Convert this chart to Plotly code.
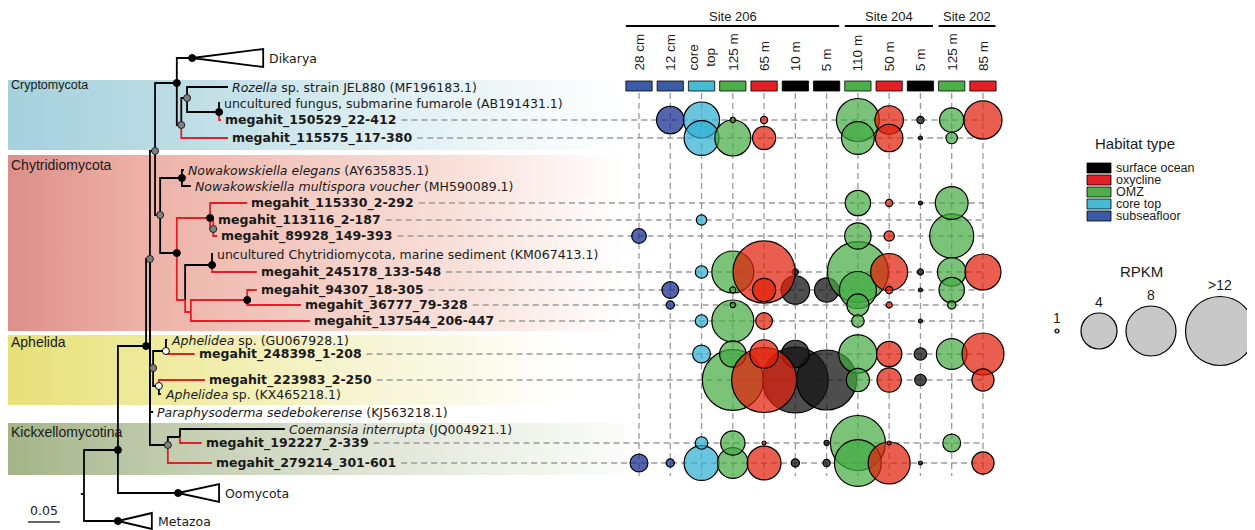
import numpy as np
import plotly.graph_objects as go

W, H = 1255, 530
PAGE_OFF = 8  # browser default body margin; figure is drawn at (8, 8) on the page

# ======================= DATA =======================
samples = ["S206_28cm", "S206_12cm", "S206_coretop", "S206_125m", "S206_65m", "S206_10m", "S206_5m",
           "S204_110m", "S204_50m", "S204_5m", "S202_125m", "S202_85m"]
sample_labels = ["28 cm", "12 cm", "core<br>top", "125 m", "65 m", "10 m", "5 m",
                 "110 m", "50 m", "5 m", "125 m", "85 m"]
sample_habitat = ["subseafloor", "subseafloor", "core top", "OMZ", "oxycline", "surface ocean", "surface ocean",
                  "OMZ", "oxycline", "surface ocean", "OMZ", "oxycline"]
site_names = ["Site 206", "Site 204", "Site 202"]
site_first = [0, 7, 10]
site_last = [6, 9, 11]

habitat_names = ["surface ocean", "oxycline", "OMZ", "core top", "subseafloor"]

contigs = [
    "megahit_150529_22-412",
    "megahit_115575_117-380",
    "megahit_115330_2-292",
    "megahit_113116_2-187",
    "megahit_89928_149-393",
    "megahit_245178_133-548",
    "megahit_94307_18-305",
    "megahit_36777_79-328",
    "megahit_137544_206-447",
    "megahit_248398_1-208",
    "megahit_223983_2-250",
    "megahit_192227_2-339",
    "megahit_279214_301-601",
]
N = None
# RPKM per contig (rows) and sample (columns, same order as `samples`)
rpkm = [
    [N, 3.2, 4.0, 1.1, 1.3, N, N, 6.0, 3.3, 1.3, 2.9, 4.6],
    [N, N, 3.9, 4.0, 2.8, N, N, 3.7, 3.2, 1.0, 1.7, N],
    [N, N, N, N, N, N, N, 3.0, 1.3, 1.0, 3.7, N],
    [N, N, 1.6, N, N, N, N, N, N, N, N, N],
    [2.0, N, N, N, N, N, N, 3.1, 1.6, N, 6.3, N],
    [N, N, 1.8, 5.7, 13.1, 1.2, N, 12.6, 4.3, 1.2, 3.3, 4.0],
    [N, 2.2, N, 1.2, 2.8, 3.3, 2.9, 4.3, 1.3, 1.0, 3.0, N],
    [N, 1.4, N, 1.1, N, N, N, 2.7, 1.2, N, 1.4, N],
    [N, N, 1.8, 5.7, 2.2, N, N, 1.8, N, 1.0, N, N],
    [N, N, 2.3, 3.1, 3.3, 3.2, N, 4.6, 3.0, 1.8, 3.5, 5.7],
    [N, N, N, 12.6, 14.3, 14.7, 12.2, 2.8, 2.9, 1.7, N, 2.7],
    [N, N, 1.8, 2.9, 1.0, N, 1.1, 10.1, 1.0, N, 2.3, N],
    [2.3, 1.4, 3.9, 3.5, 3.8, 1.4, 1.3, 7.1, 5.7, 1.0, N, 2.7],
]

legend_rpkm = [1, 4, 8, 16]
legend_rpkm_labels = ["1", "4", "8", ">12"]

# Phylogeny: (id, parent, distance from root, row position, node symbol, red branch, label)
tree = [
    ("root", None, 0.0, 494, None, False, None),
    ("Metazoa", "root", 0.053, 521, "k", False, "Metazoa"),
    ("D", "root", 0.053, 450, "k", False, None),
    ("Oomycota", "D", 0.147, 493, "k", False, "Oomycota"),
    ("E", "D", 0.097, 346, "k", False, None),
    ("F", "E", 0.103, 259, "g", False, None),
    ("N6", "F", 0.111, 151, "g", False, None),
    ("N2", "N6", 0.145, 83, "k", False, None),
    ("Dikarya", "N2", 0.169, 58, "k", False, "Dikarya"),
    ("N3", "N2", 0.152, 125, "g", False, None),
    ("N4", "N3", 0.161, 98, "g", False, None),
    ("Rozella", "N4", 0.225, 87, None, False, "<i>Rozella</i> sp. strain JEL880 (MF196183.1)"),
    ("N5", "N4", 0.211, 112, "k", False, None),
    ("fumarole", "N5", 0.2125, 103, None, False, "uncultured fungus, submarine fumarole (AB191431.1)"),
    ("megahit_150529_22-412", "N5", 0.214, 120, None, True, None),
    ("megahit_115575_117-380", "N3", 0.225, 138, None, True, None),
    ("N7", "N6", 0.119, 215, "g", False, None),
    ("Nowak", "N7", 0.153, 178, "k", False, None),
    ("Nel", "Nowak", 0.156, 170, None, False, "<i>Nowakowskiella elegans</i> (AY635835.1)"),
    ("Nmu", "Nowak", 0.167, 186, None, False, "<i>Nowakowskiella multispora voucher</i> (MH590089.1)"),
    ("Chy", "N7", 0.145, 253, "k", False, None),
    ("M", "Chy", 0.197, 218, "k", True, None),
    ("megahit_115330_2-292", "M", 0.255, 203, None, True, None),
    ("M2", "M", 0.202, 229, "g", True, None),
    ("megahit_113116_2-187", "M2", 0.203, 220, None, True, None),
    ("megahit_89928_149-393", "M2", 0.208, 236, None, True, None),
    ("Y", "Chy", 0.158, 300, None, True, None),
    ("U", "Y", 0.200, 265, "k", False, None),
    ("uncChy", "U", 0.2016, 254, None, False, "uncultured Chytridiomycota, marine sediment (KM067413.1)"),
    ("megahit_245178_133-548", "U", 0.270, 272, None, True, None),
    ("Z", "Y", 0.167, 312, None, True, None),
    ("W", "Z", 0.255, 300, "k", True, None),
    ("megahit_94307_18-305", "W", 0.270, 290, None, True, None),
    ("megahit_36777_79-328", "W", 0.339, 305, None, True, None),
    ("megahit_137544_206-447", "Z", 0.353, 321, None, True, None),
    ("Aph", "F", 0.108, 368, "g", False, None),
    ("Aph1", "Aph", 0.128, 351, "w", False, None),
    ("AphGU", "Aph1", 0.130, 340, None, False, "<i>Aphelidea</i> sp. (GU067928.1)"),
    ("megahit_248398_1-208", "Aph1", 0.173, 354, None, True, None),
    ("Aph2", "Aph", 0.117, 386, "w", False, None),
    ("megahit_223983_2-250", "Aph2", 0.189, 380, None, True, None),
    ("AphKX", "Aph2", 0.120, 394, None, False, "<i>Aphelidea</i> sp. (KX465218.1)"),
    ("Para", "F", 0.108, 412, None, False, "<i>Paraphysoderma sedebokerense</i> (KJ563218.1)"),
    ("KP", "F", 0.131, 445, "g", False, None),
    ("C", "KP", 0.150, 437, None, False, None),
    ("Coem", "C", 0.314, 429, None, False, "<i>Coemansia interrupta</i> (JQ004921.1)"),
    ("megahit_192227_2-339", "C", 0.184, 443, None, True, None),
    ("megahit_279214_301-601", "KP", 0.200, 463, None, True, None),
]
# collapsed clades: (depth extent, half height in px)
collapsed = {"Dikarya": (0.111, 9), "Oomycota": (0.064, 9), "Metazoa": (0.053, 8)}

clade_names = ["Cryptomycota", "Chytridiomycota", "Aphelida", "Kickxellomycotina"]
scale_bar_length = 0.05

# ======================= STYLE / LAYOUT =======================
TXT = "#1a1a1a"
FONT_TREE = "DejaVu Sans"
FONT_UI = "Liberation Sans, Arial, sans-serif"
FONT_NARROW = "Liberation Sans Narrow, Liberation Sans, Arial"
RED = "#E41F26"
box_colors = {"surface ocean": "#000000", "oxycline": "#E41F26", "OMZ": "#4EAF4A",
              "core top": "#45BCD4", "subseafloor": "#3B5BA6"}
bubble_colors = {"surface ocean": "rgba(23,23,23,0.76)", "oxycline": "rgba(224,32,10,0.72)",
                 "OMZ": "rgba(66,170,62,0.70)", "core top": "rgba(48,174,210,0.72)",
                 "subseafloor": "rgba(20,42,142,0.72)"}
draw_order = ["surface ocean", "subseafloor", "core top", "OMZ", "oxycline"]

FW, FH = W - PAGE_OFF, H - PAGE_OFF   # figure size so the page (with its margin) fits the window

TREE_X0 = 84.0        # page px position of root
PX_PER_UNIT = 640.0   # px per substitution unit
COL_X0, COL_STEP = 639.0, 31.27
x2_dom = [(COL_X0 - COL_STEP / 2 - PAGE_OFF) / FW, (COL_X0 + 11 * COL_STEP + COL_STEP / 2 - PAGE_OFF) / FW]
ROW_END_PX = 984
VLINE_Y = (93, 476)

band_rows = [(80, 150), (155, 331), (335, 405), (423, 475)]
band_label_y = [85, 165, 342, 432]
band_label_size = [12.5, 14, 14, 14]
band_scales = [
    [[0, "#A4D1DD"], [0.25, "#B9DBE4"], [0.6, "#DDEEF2"], [1, "#FFFFFF"]],
    [[0, "#DD8F89"], [0.22, "#EDB1A6"], [0.48, "#F3CBC2"], [0.72, "#F8DFD9"], [1, "#FFFFFF"]],
    [[0, "#E6E078"], [0.25, "#EFEB9E"], [0.55, "#F6F4CF"], [0.92, "#FFFFFF"], [1, "#FFFFFF"]],
    [[0, "#A3B487"], [0.25, "#C0CBAC"], [0.55, "#DDE3D3"], [1, "#FBFCF9"]],
]
BAND_X = (7, 625)

SIZE_KNOTS_V = [0, 1, 4, 8, 16]
SIZE_KNOTS_PX = [0, 5, 37, 51, 70]


def bubble_px(v):
    return float(np.interp(v, SIZE_KNOTS_V, SIZE_KNOTS_PX))


DJ_BOLD = {"m": 1.042, "e": 0.678, "g": 0.716, "a": 0.675, "h": 0.712, "i": 0.343,
           "t": 0.478, "_": 0.5, "-": 0.415}


def bold_width(s, size):
    return size * sum(DJ_BOLD.get(ch, 0.696) for ch in s)


TREE_FS = 12.5
LABEL_SHIFT = 2

fig = go.Figure()
ann = []
shapes = []

# ---------- clade bands ----------
for (y0, y1), cs, name, ly, fs in zip(band_rows, band_scales, clade_names, band_label_y, band_label_size):
    fig.add_trace(go.Scatter(
        x=[BAND_X[0], BAND_X[1], BAND_X[1], BAND_X[0], BAND_X[0]], y=[y0, y0, y1, y1, y0],
        mode="lines", line=dict(width=0), fill="toself",
        fillgradient=dict(type="horizontal", colorscale=cs),
        hoverinfo="skip", showlegend=False, xaxis="x", yaxis="y"))
    ann.append(dict(x=9, y=ly, xref="x", yref="y", text=name, showarrow=False, xanchor="left",
                    yanchor="middle", font=dict(family=FONT_UI, size=fs, color=TXT)))

# ---------- tree ----------
nodes = {t[0]: dict(parent=t[1], depth=t[2], y=t[3], dot=t[4], red=t[5], label=t[6]) for t in tree}
segs = {False: ([], []), True: ([], [])}
root = nodes["root"]
segs[False][0].extend([root["depth"] - 0.005, root["depth"], None])
segs[False][1].extend([root["y"], root["y"], None])
for nid, n in nodes.items():
    if n["parent"] is None:
        continue
    P = nodes[n["parent"]]
    xs, ys = segs[n["red"]]
    xs.extend([P["depth"], P["depth"], n["depth"], None])
    ys.extend([P["y"], n["y"], n["y"], None])
    if nid in collapsed:
        ext, hh = collapsed[nid]
        d, y = n["depth"], n["y"]
        segs[False][0].extend([d, d + ext, d + ext, d, None])
        segs[False][1].extend([y, y - hh, y + hh, y, None])

for red in (False, True):
    fig.add_trace(go.Scatter(x=segs[red][0], y=segs[red][1], mode="lines",
                             line=dict(color=RED if red else "#000000", width=1.8),
                             hoverinfo="skip", showlegend=False, xaxis="x3", yaxis="y",
                             cliponaxis=False))

dot_style = {"k": ("#000000", "#000000"), "g": ("#808080", "#202020"), "w": ("#FFFFFF", "#000000")}
for key, (fc, lc) in dot_style.items():
    sel = [n for n in nodes.values() if n["dot"] == key]
    fig.add_trace(go.Scatter(x=[n["depth"] for n in sel], y=[n["y"] for n in sel], mode="markers",
                             marker=dict(size=7, color=fc, opacity=1, line=dict(color=lc, width=1)),
                             hoverinfo="skip", showlegend=False, xaxis="x3", yaxis="y", cliponaxis=False))

# leaf labels + dashed guide lines
hx, hy = [], []
for nid, n in nodes.items():
    if nid.startswith("megahit"):
        ann.append(dict(x=n["depth"], y=n["y"], xref="x3", yref="y", text="<b>" + nid + "</b>",
                        showarrow=False, xanchor="left", yanchor="middle", xshift=LABEL_SHIFT,
                        font=dict(family=FONT_TREE, size=TREE_FS, color=TXT)))
        start = TREE_X0 + n["depth"] * PX_PER_UNIT + LABEL_SHIFT + 1 + bold_width(nid, TREE_FS) + 6
        hx.extend([start, ROW_END_PX, None])
        hy.extend([n["y"], n["y"], None])
    elif n["label"] is not None:
        d = n["depth"] + (collapsed[nid][0] if nid in collapsed else 0)
        ann.append(dict(x=d, y=n["y"], xref="x3", yref="y", text=n["label"], showarrow=False,
                        xanchor="left", yanchor="middle", xshift=LABEL_SHIFT + (2 if nid in collapsed else 0),
                        font=dict(family=FONT_TREE, size=TREE_FS, color=TXT)))

fig.add_trace(go.Scatter(x=hx, y=hy, mode="lines", line=dict(color="#9a9a9a", width=1.3, dash="6px,4px"),
                         hoverinfo="skip", showlegend=False, xaxis="x", yaxis="y"))

# scale bar
sb_x0 = -0.0875
fig.add_trace(go.Scatter(x=[sb_x0, sb_x0 + scale_bar_length], y=[522, 522], mode="lines",
                         line=dict(color="#000000", width=1.2), hoverinfo="skip", showlegend=False,
                         xaxis="x3", yaxis="y", cliponaxis=False))
ann.append(dict(x=sb_x0 + scale_bar_length / 2, y=520, xref="x3", yref="y", text="0.05", showarrow=False,
                xanchor="center", yanchor="bottom", font=dict(family=FONT_TREE, size=TREE_FS, color=TXT)))

# ---------- bubble grid ----------
contig_y = [nodes[c]["y"] for c in contigs]
vx, vy = [], []
for s in samples:
    vx.extend([s, s, None])
    vy.extend([VLINE_Y[0], VLINE_Y[1], None])
fig.add_trace(go.Scatter(x=vx, y=vy, mode="lines", line=dict(color="#9a9a9a", width=1.3, dash="6px,4px"),
                         hoverinfo="skip", showlegend=False, xaxis="x2", yaxis="y"))

# habitat colour boxes
fig.add_trace(go.Bar(x=samples, y=[10] * len(samples), base=[81] * len(samples), width=0.84,
                     marker=dict(color=[box_colors[h] for h in sample_habitat],
                                 line=dict(color="#000000", width=0.8)),
                     hoverinfo="skip", showlegend=False, xaxis="x2", yaxis="y"))

# bubbles
pts = []
for r, row in enumerate(rpkm):
    for c, v in enumerate(row):
        if v is None:
            continue
        h = sample_habitat[c]
        pts.append((draw_order.index(h), -v, c, r, v, h))
pts.sort()
fig.add_trace(go.Scatter(
    x=[samples[p[2]] for p in pts], y=[contig_y[p[3]] for p in pts], mode="markers",
    marker=dict(size=[bubble_px(p[4]) - 1 for p in pts], color=[bubble_colors[p[5]] for p in pts],
                opacity=1, line=dict(color="#000000", width=1.2)),
    text=[f"{contigs[p[3]]}<br>{samples[p[2]]}: {p[4]} RPKM" for p in pts], hoverinfo="text",
    showlegend=False, xaxis="x2", yaxis="y", cliponaxis=False))

# column labels
for s, lab in zip(samples, sample_labels):
    ann.append(dict(x=s, y=73, xref="x2", yref="y", text=lab, showarrow=False, textangle=-90,
                    xanchor="center", yanchor="bottom",
                    font=dict(family=FONT_NARROW, size=13.5, color=TXT)))
# site headers
for name, a, b in zip(site_names, site_first, site_last):
    shapes.append(dict(type="line", xref="x2", yref="y", x0=a - 0.42, x1=b + 0.4, y0=26, y1=26,
                       line=dict(color="#000000", width=2)))
    ann.append(dict(x=(a + b) / 2, y=16, xref="x2", yref="y", text=name, showarrow=False,
                    xanchor="center", yanchor="middle", font=dict(family=FONT_UI, size=13, color=TXT)))

# ---------- legends ----------
ann.append(dict(x=1135, y=143, xref="x", yref="y", text="Habitat type", showarrow=False,
                xanchor="center", yanchor="middle", font=dict(family=FONT_UI, size=15, color=TXT)))
for i, hname in enumerate(habitat_names):
    yc = 168 + 12 * i
    shapes.append(dict(type="rect", xref="x", yref="y", x0=1087, x1=1111, y0=yc - 5, y1=yc + 5,
                       fillcolor=box_colors[hname], line=dict(color="#000000", width=0.8)))
    ann.append(dict(x=1115, y=yc, xref="x", yref="y", text=hname, showarrow=False, xanchor="left",
                    yanchor="middle", borderpad=0, font=dict(family=FONT_UI, size=12.5, color=TXT)))

ann.append(dict(x=1141, y=271, xref="x", yref="y", text="RPKM", showarrow=False,
                xanchor="center", yanchor="middle", font=dict(family=FONT_UI, size=15, color=TXT)))
leg_x = [1057, 1099, 1151, 1220]
leg_y = 331
leg_sizes = [bubble_px(v) for v in legend_rpkm]
fig.add_trace(go.Scatter(x=leg_x, y=[leg_y] * 4, mode="markers",
                         marker=dict(size=[s - 1 for s in leg_sizes], color="#C8C8C8", opacity=1,
                                     line=dict(color="#000000", width=1.2)),
                         hoverinfo="skip", showlegend=False, xaxis="x", yaxis="y", cliponaxis=False))
for x, s, lab in zip(leg_x, leg_sizes, legend_rpkm_labels):
    ann.append(dict(x=x, y=leg_y - s / 2 - 1, xref="x", yref="y", text=lab, showarrow=False,
                    xanchor="center", yanchor="bottom", font=dict(family=FONT_UI, size=14, color=TXT)))

fig.update_layout(
    width=FW, height=FH, margin=dict(l=0, r=0, t=0, b=0),
    paper_bgcolor="white", plot_bgcolor="rgba(0,0,0,0)",
    xaxis=dict(range=[PAGE_OFF, W], visible=False, fixedrange=True),
    yaxis=dict(range=[H, PAGE_OFF], visible=False, fixedrange=True),
    xaxis2=dict(domain=x2_dom, anchor="y", type="category", categoryorder="array", categoryarray=samples,
                range=[-0.5, 11.5], visible=False, fixedrange=True),
    xaxis3=dict(overlaying="x", anchor="y",
                range=[(PAGE_OFF - TREE_X0) / PX_PER_UNIT, (W - TREE_X0) / PX_PER_UNIT],
                visible=False, fixedrange=True),
    annotations=ann, shapes=shapes, showlegend=False, hovermode="closest",
)

fig.write_html("out.html")
